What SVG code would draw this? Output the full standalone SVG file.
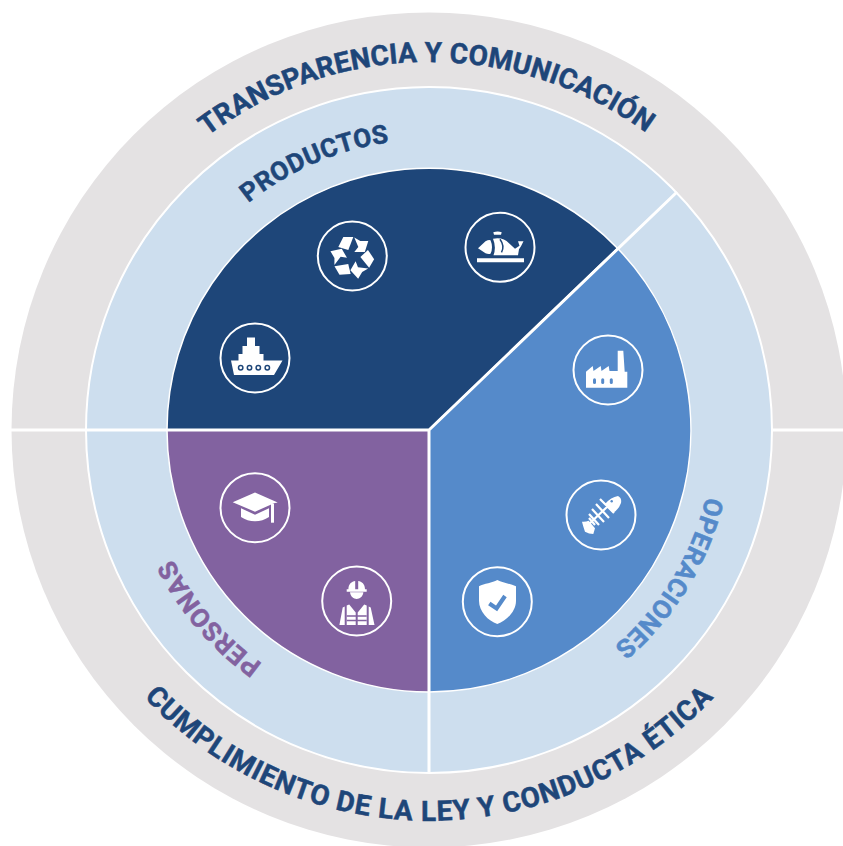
<svg xmlns="http://www.w3.org/2000/svg" width="843" height="846" viewBox="0 0 843 846">
<style>
.t{font-family:"Roboto","Liberation Sans",sans-serif;font-weight:700;stroke-width:.5}
.o{font-size:28px;fill:#1e4679;stroke:#1e4679}
.m{font-size:26px}
.ic{fill:none;stroke:#fff;stroke-width:2}
.w{fill:#fff}
.sep{stroke:#fff;stroke-width:3;fill:none}
.sec{stroke:#fff;stroke-width:1.500}
</style>
<defs>
<path id="a1" d="M207.500 136.100A368 368 0 0 1 747.700 246"/>
<path id="a2" d="M144 697.300A391 391 0 0 0 814 498"/>
<path id="a3" d="M248.500 203A290 290 0 0 1 640 230"/>
<path id="a4" d="M706 496.500A285 285 0 0 1 286.500 676.800"/>
<path id="a5" d="M262.300 663.600A287 287 0 0 1 307.700 170"/>
<g id="rec"><path class="w" d="M-14 -9L-9 -19H1L-4 -6Z"/><path class="w" d="M2 -18.500L8 -15L16 -15L12.500 -4H2L6 -9Z"/></g>
</defs>
<rect width="843" height="846" fill="#fff"/>
<g id="ring-outer"><circle cx="429" cy="430" r="417.500" fill="#e4e2e3"/></g>
<g id="ring-mid"><circle cx="429" cy="430" r="343" fill="#cddeee" stroke="#fff" stroke-width="2"/></g>
<g id="sector-productos"><path class="sec" d="M429 430L167 430A262 262 0 0 1 617.700 248.400Z" fill="#1e4679"/></g>
<g id="sector-operaciones"><path class="sec" d="M429 430L617.700 248.400A262 262 0 0 1 429 692Z" fill="#558aca"/></g>
<g id="sector-personas"><path class="sec" d="M429 430L429 692A262 262 0 0 1 167 430Z" fill="#8262a0"/></g>
<g id="connectors">
<path class="sep" d="M11 430H429V772M429 430L677 192M771 430H843"/>
</g>
<g id="labels">
<text class="t o" letter-spacing=".1"><textPath href="#a1">TRANSPARENCIA Y COMUNICACIÓN</textPath></text>
<text class="t o" letter-spacing=".8"><textPath href="#a2">CUMPLIMIENTO DE LA LEY Y CONDUCTA ÉTICA</textPath></text>
<text class="t m" fill="#1e4679" stroke="#1e4679" letter-spacing=".4"><textPath href="#a3">PRODUCTOS</textPath></text>
<text class="t m" fill="#558aca" stroke="#558aca" letter-spacing=".4"><textPath href="#a4">OPERACIONES</textPath></text>
<text class="t m" fill="#8262a0" stroke="#8262a0" letter-spacing=".7"><textPath href="#a5">PERSONAS</textPath></text>
</g>
<g id="icon-ship" transform="translate(255 358)"><circle class="ic" r="34.500"/>
<path class="w" d="M-8 -20.500H0V-12H4.500V-4H8.500V2.500H27.500L19 17H-21L-24 2.500H-16.500V-4H-12.500V-12H-8Z"/>
<g class="w" stroke="#1e4679" stroke-width="1.500"><circle cx="-14.300" cy="9.700" r="2.200"/><circle cx="-5.500" cy="9.700" r="2.200"/><circle cx="3.300" cy="9.700" r="2.200"/><circle cx="12.300" cy="9.700" r="2.200"/></g></g>
<g id="icon-recycle" transform="translate(352.300 256)"><circle class="ic" r="34.500"/>
<g transform="translate(0 1)"><use href="#rec" y="-1"/><use href="#rec" y="-1" transform="rotate(120)"/><use href="#rec" y="-1" transform="rotate(240)"/></g></g>
<g id="icon-fish" transform="translate(500 247.300)"><circle class="ic" r="34.500"/>
<path class="w" d="M-6.700 -15Q-2 -16.500 1.700 -15L1 -12.500H-6ZM-22 1L-14.500 -6Q-11 -8 -9.500 -7Q-6.500 0 -9.500 6.500Q-12 7 -14.500 6ZM-7 -8.500Q3 -10.500 9 -4L15 1.500L19.500 -1.500L18 -6H23.500L21 -1L19 2L18 8H-6.500Q-3.500 0 -7 -8.500Z"/>
<path class="w" d="M-23 11H24V15H-23Z"/>
<path d="M0 -8Q5 -1 1.500 5" stroke="#1e4679" stroke-width="1.500" fill="none"/>
</g>
<g id="icon-factory" transform="translate(608 370)"><circle class="ic" r="34.500"/>
<path class="w" d="M-22 1.700L-15.300 -4L-14.500 1L-7.300 -4L-6.500 1L.7 -4L1.500 1H9.700V-19.300H15.300L16.700 1.700H19.300V17.700H-22Z"/>
<g fill="#558aca"><rect x="-15" y="8.300" width="3" height="5.700" rx="1.500"/><rect x="-6.800" y="8.300" width="3" height="5.700" rx="1.500"/><rect x="1.800" y="8.300" width="3" height="5.700" rx="1.500"/></g></g>
<g id="icon-fishbone" transform="translate(601 515)"><circle class="ic" r="34.500"/>
<path class="w" d="M17 -19Q21 -17 20 -12Q18 -6 12.300 -2.300L4 -11Q10 -18 17 -19Z"/>
<circle cx="10.700" cy="-13.700" r="1.200" fill="#558aca"/>
<path d="M6 -8L-13 10M-1 -16L13 -2M-5 -11L8 3M-9 -6L3 7M-12 -1L-2 10M-12 3L-6 10" stroke="#fff" stroke-width="2.200" fill="none"/>
<path class="w" d="M-19 6.700Q-15 7 -12.300 5.700L-6 13.300L-7.700 19Q-12 19 -16 16.700Q-18 11 -19 6.700Z"/></g>
<g id="icon-shield" transform="translate(497.300 601.700)"><circle class="ic" r="34.500"/>
<path class="w" d="M0 -21.700C5 -19 13 -18 18.700 -15.500V-1C18.700 10 9 19 0 22.300C-9 19 -18.300 10 -18.300 -1V-15.500C-13 -18 -5 -19 0 -21.700Z"/>
<path d="M-8 1.700L-.7 6.700L7.700 -5.700" stroke="#558aca" stroke-width="4.200" fill="none"/></g>
<g id="icon-grad" transform="translate(255 507.700)"><circle class="ic" r="34.500"/>
<path class="w" d="M0 -15.300L22.700 -5.300L19 -4.500L0 4L-22.300 -5.500Z"/>
<path class="w" d="M-14 .5L0 7L14 .5V9.300C6 15 -6 15 -14 9.300Z"/>
<path class="w" d="M16 -4H19V15H16Z"/></g>
<g id="icon-worker" transform="translate(356.700 601)"><circle class="ic" r="34.500"/>
<path class="w" d="M-8.300 -11.700C-8.300 -17 -5 -19.500 -1.500 -20V-11.700ZM1.500 -20C5 -19.500 8.300 -17 8.300 -11.700H1.500ZM-10 -11.700H10V-9.300H-10ZM-6.700 -8.700H6.700C6 -4 3 -2 0 -2C-3 -2 -6 -4 -6.700 -8.700Z"/>
<path class="w" d="M-17.300 24L-14 6.500L-12 5.500V24ZM17.800 24L14 6.500L12 5.500V24ZM-10 4.500L-7.500 3.500L-1 11.500V24H-10ZM10 4.500L7.500 3.500L1 11.500V24H10Z"/>
<path d="M-10 15H10M-10 19.500H10" stroke="#8262a0" stroke-width="1.500"/>
</g>
</svg>
